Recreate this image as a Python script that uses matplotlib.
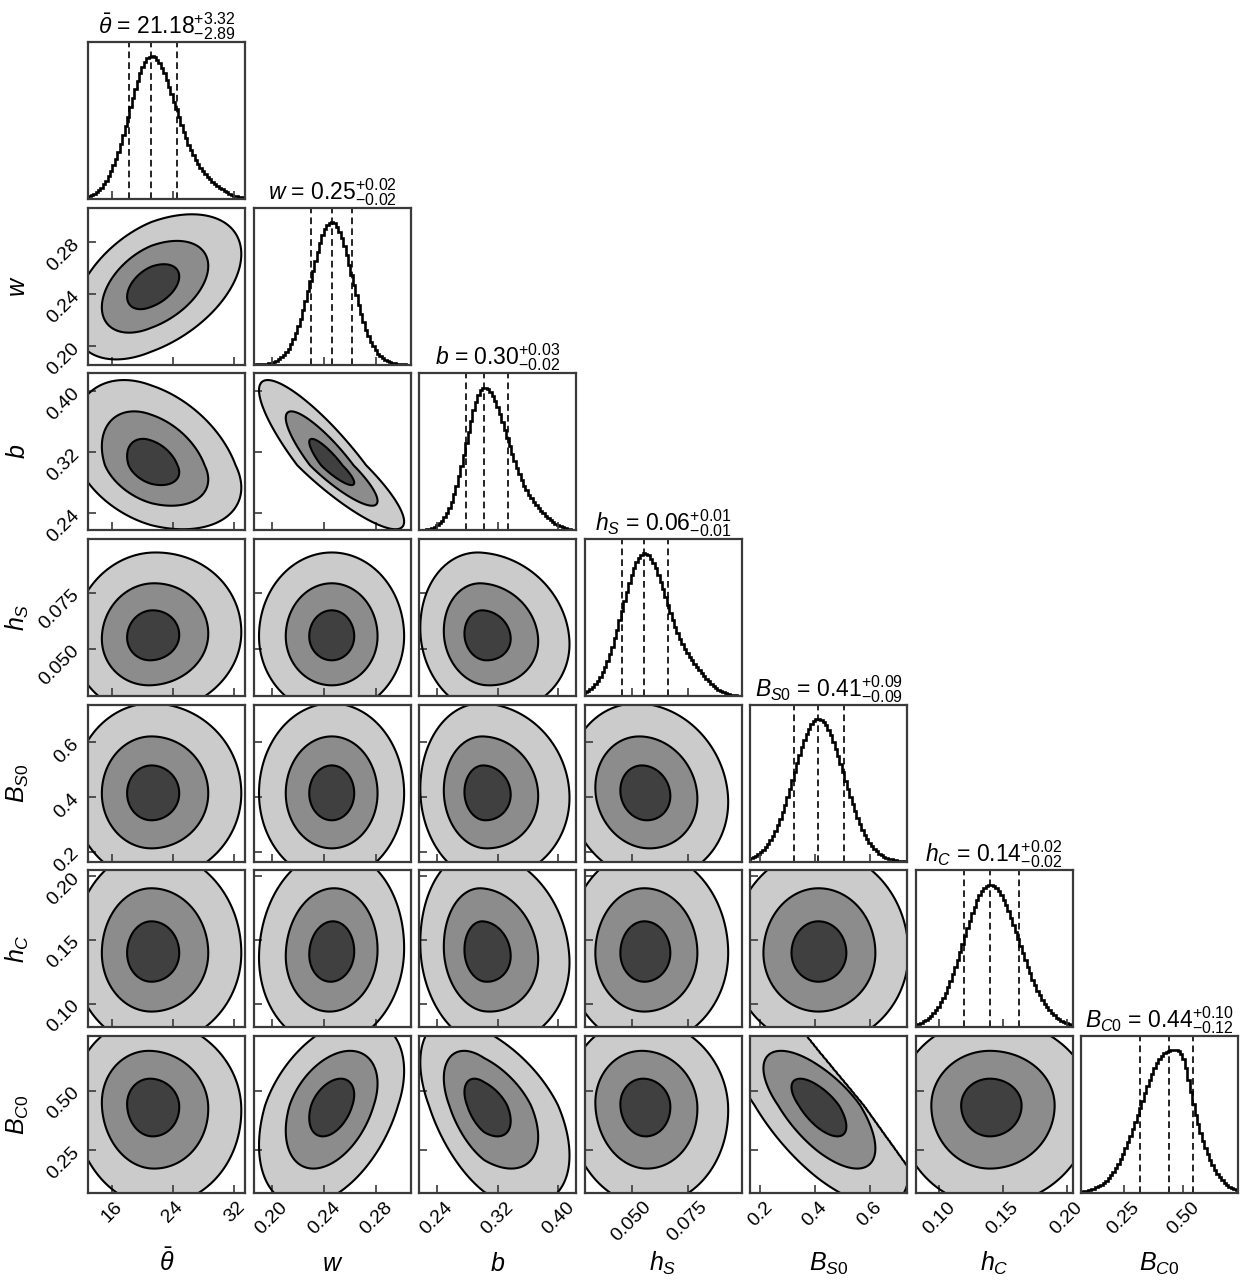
import numpy as np
import matplotlib
matplotlib.use('Agg')
import matplotlib.pyplot as plt

plt.rcParams['font.family'] = ['Liberation Sans', 'DejaVu Sans']
plt.rcParams['mathtext.fontset'] = 'custom'
plt.rcParams['mathtext.rm'] = 'Liberation Sans'
plt.rcParams['mathtext.it'] = 'Liberation Sans:italic'
plt.rcParams['mathtext.bf'] = 'Liberation Sans:bold'

# parameters of the corner plot
labels = [r'$\bar{\theta}$', r'$w$', r'$b$', r'$h_S$', r'$B_{S0}$', r'$h_C$', r'$B_{C0}$']

# 16th / 50th / 84th percentiles (dashed lines)
q16 = [18.29, 0.2301, 0.2788, 0.0458, 0.323, 0.1192, 0.320]
q50 = [21.18, 0.2459, 0.3026, 0.0556, 0.413, 0.1397, 0.438]
q84 = [24.50, 0.2616, 0.3343, 0.0662, 0.506, 0.1624, 0.540]

# axis limits
lo = [12.95, 0.186, 0.217, 0.0289, 0.163, 0.0815, 0.072]
hi = [33.44, 0.3065, 0.4235, 0.0991, 0.737, 0.2045, 0.728]

ticks = [[16, 24, 32], [0.20, 0.24, 0.28], [0.24, 0.32, 0.40], [0.050, 0.075],
         [0.2, 0.4, 0.6], [0.10, 0.15, 0.20], [0.25, 0.50]]
tick_fmt = ['{:.0f}', '{:.2f}', '{:.2f}', '{:.3f}', '{:.1f}', '{:.2f}', '{:.2f}']

# secondary hump / tail on the 1D marginals (position, width, height)
bump_pos = [28.5, 0, 0.37, 0.078, 0, 0, 0.50]
bump_wid = [2.2, 1, 0.02, 0.007, 1, 1, 0.025]
bump_amp = [0.07, 0, 0.08, 0.12, 0, 0, 0.12]

# pairwise correlations (lower triangle)
rho = [
    [],
    [0.45],
    [-0.35, -0.88],
    [0.05, 0.00, -0.10],
    [0.00, 0.00, -0.05, -0.10],
    [0.00, 0.05, -0.10, 0.00, 0.00],
    [-0.05, 0.40, -0.50, -0.05, -0.68, 0.00],
]
# hard edge seen in the B_S0 - B_C0 panel (in standardised units)
cut_pair = (6, 4)
cut_dir = (0.78, 0.62)
cut_at = 1.4

# squared radii of the three filled contours
levels = [1.2, 5.0, 12.5]

n = len(labels)
fills = ['#404040', '#8c8c8c', '#cbcbcb']
frame = '#3a3a3a'


def zscore(x, i):
    s = np.where(x < q50[i], q50[i] - q16[i], q84[i] - q50[i])
    return (x - q50[i]) / s


fig = plt.figure(figsize=(12.42, 12.82), dpi=100)
W, H = 1242.0, 1282.0
size = 157.0

for r in range(n):
    for c in range(r + 1):
        left = 88.3 + 165.45 * c
        top = 42.0 + 165.67 * r
        ax = fig.add_axes([left / W, 1 - (top + size) / H, size / W, size / H])
        for sp in ax.spines.values():
            sp.set_color(frame)
            sp.set_linewidth(1.6)

        if r == c:
            edges = np.linspace(lo[c], hi[c], 66)
            mid = 0.5 * (edges[1:] + edges[:-1])
            h = np.exp(-0.5 * zscore(mid, c) ** 2)
            h = h + bump_amp[c] * np.exp(-0.5 * ((mid - bump_pos[c]) / bump_wid[c]) ** 2)
            ax.stairs(h, edges, color='black', lw=1.9)
            for q in (q16[c], q50[c], q84[c]):
                ax.axvline(q, color='black', ls='--', lw=1.2, dashes=(4, 2.5))
            ax.set_ylim(0, 1.1 * h.max())
            ax.set_yticks([])
            up = q84[c] - q50[c]
            dn = q50[c] - q16[c]
            ax.set_title('%s = $%.2f^{+%.2f}_{-%.2f}$' % (labels[c], q50[c], up, dn),
                         fontsize=16.5, pad=4)
        else:
            x = np.linspace(lo[c], hi[c], 220)
            y = np.linspace(lo[r], hi[r], 220)
            X, Y = np.meshgrid(x, y)
            zx = zscore(X, c)
            zy = zscore(Y, r)
            p = rho[r][c]
            d2 = (zx ** 2 - 2 * p * zx * zy + zy ** 2) / (1 - p ** 2)
            if (r, c) == cut_pair:
                u = cut_dir[0] * zx + cut_dir[1] * zy
                d2 = np.where(u > cut_at, 99.0, d2)
            ax.contourf(X, Y, d2, levels=[0] + levels, colors=fills)
            ax.contour(X, Y, d2, levels=levels, colors='black', linewidths=1.5)
            ax.set_ylim(lo[r], hi[r])
            ax.set_yticks(ticks[r])
            if c == 0:
                ax.set_yticklabels([tick_fmt[r].format(t) for t in ticks[r]],
                                   rotation=45, fontsize=14)
                ax.set_ylabel(labels[r], fontsize=18, va='baseline')
                ax.yaxis.set_label_coords(-0.405, 0.5)
            else:
                ax.set_yticklabels([])

        ax.set_xlim(lo[c], hi[c])
        ax.set_xticks(ticks[c])
        if r == n - 1:
            ax.set_xticklabels([tick_fmt[c].format(t) for t in ticks[c]],
                               rotation=45, fontsize=14)
            ax.set_xlabel(labels[c], fontsize=18, va='baseline')
            ax.xaxis.set_label_coords(0.5, -0.497)
        else:
            ax.set_xticklabels([])
        ax.tick_params(direction='in', length=6, width=1.2, color=frame, pad=4)

fig.savefig('out.png', dpi=100, facecolor='white')
